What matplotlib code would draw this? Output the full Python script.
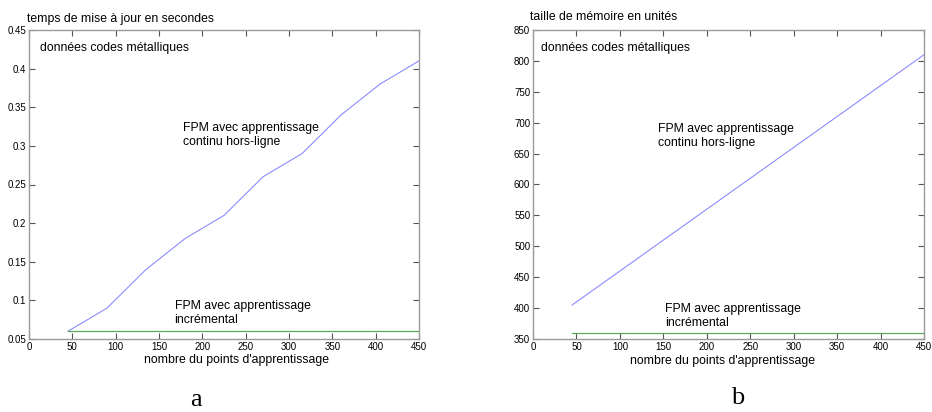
import matplotlib
matplotlib.use("Agg")
import matplotlib.pyplot as plt

n_points = [45, 90, 135, 180, 225, 270, 315, 360, 405, 450]
time_offline = [0.06, 0.09, 0.14, 0.18, 0.21, 0.26, 0.29, 0.34, 0.38, 0.41]
time_incremental = [0.06] * 10
mem_offline = [405, 450, 495, 540, 585, 630, 675, 720, 765, 810]
mem_incremental = [360] * 10

xticks = [0, 50, 100, 150, 200, 250, 300, 350, 400, 450]
yticks_a = [0.05, 0.1, 0.15, 0.2, 0.25, 0.3, 0.35, 0.4, 0.45]
yticks_a_labels = ["0.05", "0.1", "0.15", "0.2", "0.25", "0.3", "0.35", "0.4", "0.45"]
yticks_b = [350, 400, 450, 500, 550, 600, 650, 700, 750, 800, 850]

plt.rcParams['font.family'] = ['Liberation Sans', 'DejaVu Sans']

W, H = 932, 412
fig = plt.figure(figsize=(W / 100, H / 100), dpi=100)

def px(x0, y0, x1, y1):
    return [x0 / W, 1 - y1 / H, (x1 - x0) / W, (y1 - y0) / H]

blue = "#8c8cff"
green = "#5aaa5a"
frame = "#9a9a9a"
fs = 8.8

def style(ax):
    for s in ax.spines.values():
        s.set_color(frame)
        s.set_linewidth(1.0)
    ax.tick_params(direction="in", top=True, right=True, length=4, width=0.8,
                   color="#555555", labelsize=7, pad=2)
    ax.set_xlim(0, 450)
    ax.set_xticks(xticks)

ax1 = fig.add_axes(px(29, 30, 419, 339))
ax1.plot(n_points, time_offline, color=blue, lw=0.8)
ax1.plot(n_points, time_incremental, color=green, lw=0.9)
style(ax1)
ax1.set_ylim(0.05, 0.45)
ax1.set_yticks(yticks_a)
ax1.set_yticklabels(yticks_a_labels)
ax1.text(178, 0.323, "FPM avec apprentissage", fontsize=fs, va="center")
ax1.text(178, 0.305, "continu hors-ligne", fontsize=fs, va="center")
ax1.text(168, 0.0925, "FPM avec apprentissage", fontsize=fs, va="center")
ax1.text(168, 0.0745, "incrémental", fontsize=fs, va="center")

ax2 = fig.add_axes(px(533, 30, 924, 339))
ax2.plot(n_points, mem_offline, color=blue, lw=0.8)
ax2.plot(n_points, mem_incremental, color=green, lw=0.9)
style(ax2)
ax2.set_ylim(350, 850)
ax2.set_yticks(yticks_b)
ax2.text(144, 690, "FPM avec apprentissage", fontsize=fs, va="center")
ax2.text(144, 667, "continu hors-ligne", fontsize=fs, va="center")
ax2.text(152, 398, "FPM avec apprentissage", fontsize=fs, va="center")
ax2.text(152, 376, "incrémental", fontsize=fs, va="center")

def ftext(x, y, s, **kw):
    fig.text(x / W, 1 - y / H, s, **kw)

ftext(27, 19, "temps de mise à jour en secondes", fontsize=fs, va="center", ha="left")
ftext(40, 48, "données codes métalliques", fontsize=fs, va="center", ha="left")
ftext(236, 360, "nombre du points d'apprentissage", fontsize=fs, va="center", ha="center")
ftext(530, 17, "taille de mémoire en unités", fontsize=fs, va="center", ha="left")
ftext(541, 48, "données codes métalliques", fontsize=fs, va="center", ha="left")
ftext(722, 361, "nombre du points d'apprentissage", fontsize=fs, va="center", ha="center")
ftext(196, 400, "a", fontsize=19, va="center", ha="center", family=["Liberation Serif", "DejaVu Serif"])
ftext(738, 398, "b", fontsize=19, va="center", ha="center", family=["Liberation Serif", "DejaVu Serif"])

fig.savefig("out.png", dpi=100)
